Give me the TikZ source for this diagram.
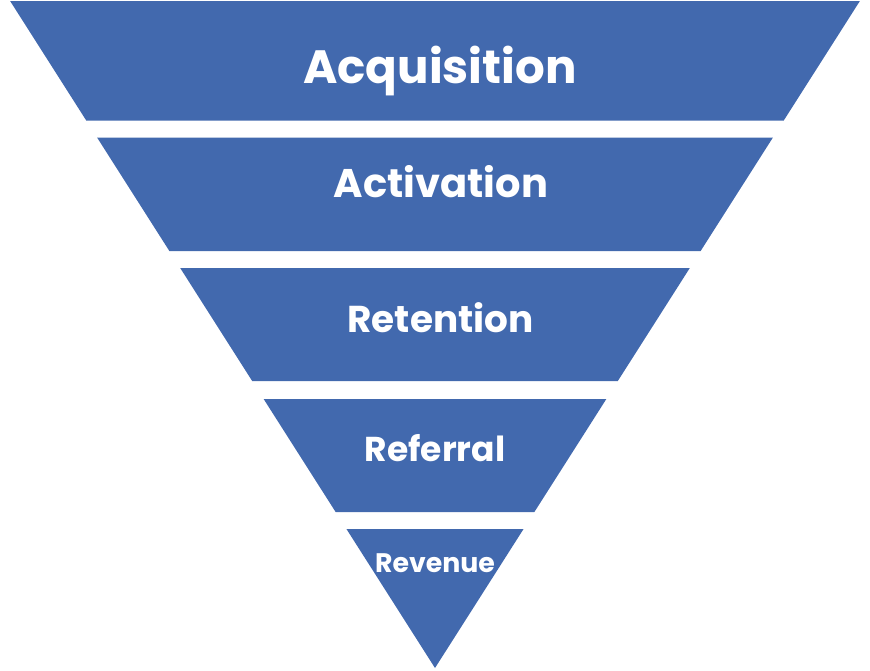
\documentclass[tikz,border=0pt]{standalone}
\usepackage{fontspec}
\setmainfont{Poppins}
\definecolor{funnelblue}{RGB}{66,105,174}

\begin{document}
\begin{tikzpicture}[x=1pt,y=-1pt,
    band/.style={fill=funnelblue},
    stage/.style={text=white, anchor=base, inner sep=0pt, font=\bfseries\fontsize{#1}{#1}\selectfont}]
    \useasboundingbox (0,0) rectangle (870,670);

% funnel bands: top y / bottom y, sides meet at (435,668)
\foreach \t/\b in {1/120.5, 137.5/251, 268/381, 399/512, 529/668}
    \fill[band] ({435-(668-\t)*0.637},\t) -- ({435+(668-\t)*0.637},\t)
        -- ({435+(668-\b)*0.637},\b) -- ({435-(668-\b)*0.637},\b) -- cycle;

\node[stage=46.7] (acq) at (440,83) {Acquisition};
\node[stage=40] (act) at (441,197) {Activation};
\node[stage=37.4] (ret) at (440.5,332) {Retention};
\node[stage=34.5] (ref) at (435,461) {Referral};
\node[stage=26.8] (rev) at (435,572) {Revenue};

\end{tikzpicture}
\end{document}
